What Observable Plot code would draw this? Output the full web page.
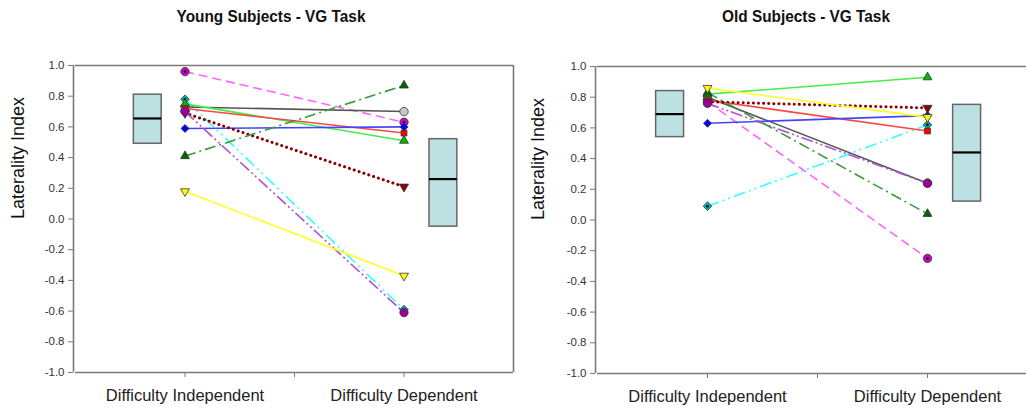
<!DOCTYPE html>
<html>
<head>
<meta charset="utf-8">
<script src="https://cdn.jsdelivr.net/npm/d3@7"></script>
<script src="https://cdn.jsdelivr.net/npm/@observablehq/plot@0.6"></script>
<style>
  html, body { margin: 0; padding: 0; background: #fff; overflow: hidden; }
  #wrap { position: relative; width: 1026px; height: 411px; overflow: hidden; font-family: "Liberation Sans", Arial, sans-serif; }
  .title { position: absolute; top: 8px; font-weight: bold; font-size: 16px; color: #111; white-space: nowrap; transform: translateX(-50%) scaleX(0.96); }
  .panel { position: absolute; top: 40px; height: 371px; }
  .panel svg { max-width: none !important; display: block; }
</style>
</head>
<body>
<div id="wrap">
  <div class="title" style="left:271px">Young Subjects - VG Task</div>
  <div class="title" style="left:806px">Old Subjects - VG Task</div>
  <div class="panel" id="left" style="left:0px; width:520px"></div>
  <div class="panel" id="right" style="left:520px; width:517px"></div>
</div>
<script>
// ---- data ----
const conditions = ["Difficulty Independent", "Difficulty Dependent"];
const subjects = ["S1", "S2", "S3", "S4", "S5", "S6", "S7", "S8", "S9", "S10"];
// order: magenta, cyan, gray, lime, red, blue, dark red, purple, dark green, yellow
const youngIndependent = [0.96, 0.78, 0.73, 0.75, 0.72, 0.59, 0.69, 0.70, 0.41, 0.18];
const youngDependent   = [0.63, -0.59, 0.70, 0.51, 0.56, 0.60, 0.21, -0.61, 0.87, -0.37];
const oldIndependent   = [0.77, 0.09, 0.80, 0.82, 0.78, 0.63, 0.77, 0.76, 0.83, 0.86];
const oldDependent     = [-0.25, 0.62, 0.24, 0.93, 0.58, 0.68, 0.73, 0.24, 0.04, 0.67];
const youngBoxQ1     = [0.49, -0.05];
const youngBoxMedian = [0.655, 0.26];
const youngBoxQ3     = [0.81, 0.52];
const oldBoxQ1       = [0.54, 0.12];
const oldBoxMedian   = [0.69, 0.44];
const oldBoxQ3       = [0.84, 0.75];
const yTicks = [-1, -0.8, -0.6, -0.4, -0.2, 0, 0.2, 0.4, 0.6, 0.8, 1];
const yLabel = "Laterality Index";

// ---- styles ----
const triangleDown = {
  draw(ctx, size) {
    const y = -Math.sqrt(size / (Math.sqrt(3) * 3));
    const s3 = Math.sqrt(3);
    ctx.moveTo(0, -2 * y);
    ctx.lineTo(-s3 * y, y);
    ctx.lineTo(s3 * y, y);
    ctx.closePath();
  }
};
const styles = [
  {line: "#ff66ff", dash: "9,5", w: 1.6, symbol: "circle", r: 4.2, fill: "#cc00cc", center: true},
  {line: "#33ffff", dash: "12,4,2,4,2,4", w: 1.6, symbol: "diamond2", r: 3.9, fill: "#00b0b0", center: true},
  {line: "#555555", dash: null, w: 1.6, symbol: "circle", r: 4.2, fill: "#c8c8c8"},
  {line: "#44ee44", dash: null, w: 1.6, symbol: "triangle", r: 3.3, fill: "#00bb00"},
  {line: "#ff4444", dash: null, w: 1.6, symbol: "square", r: 3.3, fill: "#ff0000"},
  {line: "#4444ff", dash: null, w: 1.6, symbol: "diamond2", r: 3.6, fill: "#0000ff"},
  {line: "#8b0000", dash: "0.1,5", w: 3, symbol: triangleDown, r: 3.4, fill: "#8b0000", round: true},
  {line: "#b050d0", dash: "12,3,2,3,2,3", w: 1.6, symbol: "circle", r: 4.2, fill: "#990099"},
  {line: "#3a9a3a", dash: "11,4,2,4", w: 1.6, symbol: "triangle", r: 3.3, fill: "#006600"},
  {line: "#ffff22", dash: null, w: 1.6, symbol: triangleDown, r: 3.3, fill: "#ffff00"}
];

function panel(ind, dep, q1, med, q3, opt) {
  const pts = subjects.flatMap((s, i) => [
    {s, i, x: 1, y: ind[i]},
    {s, i, x: 3, y: dep[i]}
  ]);
  const boxes = conditions.map((c, k) => ({c, q1: q1[k], med: med[k], q3: q3[k], cx: k === 0 ? 0.66 : 3.36}));
  const marks = [];
  const axisColor = "#7a7a7a";
  // frame
  marks.push(Plot.ruleY([1, -1], {x1: 0, x2: 4, stroke: axisColor, strokeWidth: 1.6}));
  marks.push(Plot.ruleX([4], {y1: -1, y2: 1, stroke: axisColor, strokeWidth: 1.6}));
  marks.push(Plot.ruleX([0], {y1: -1, y2: 1, stroke: axisColor, strokeWidth: 1.6, dx: -2}));
  marks.push(Plot.axisY({ticks: yTicks, tickFormat: d => d.toFixed(1), tickSize: 5, tickPadding: 4, dx: -2,
    stroke: axisColor, color: "#333", fontSize: 11.5, label: null}));
  marks.push(Plot.axisX({ticks: [1, 2, 3], tickFormat: d => d === 1 ? conditions[0] : d === 3 ? conditions[1] : "",
    tickSize: 5, tickPadding: 12, stroke: axisColor, color: "#222", fontSize: 16.5, label: null}));
  marks.push(Plot.text([yLabel], {frameAnchor: "left", dx: opt.labelDx, rotate: -90, text: d => d,
    fontSize: 18, fill: "#111"}));
  // boxes
  marks.push(Plot.rect(boxes, {x1: d => d.cx - 0.127, x2: d => d.cx + 0.127, y1: "q1", y2: "q3",
    fill: "#bde0e3", stroke: "#666", strokeWidth: 1.5}));
  marks.push(Plot.ruleY(boxes, {y: "med", x1: d => d.cx - 0.127, x2: d => d.cx + 0.127, stroke: "#000", strokeWidth: 2.2}));
  // lines
  styles.forEach((st, i) => {
    marks.push(Plot.line(pts.filter(d => d.i === i), {x: "x", y: "y", stroke: st.line, strokeWidth: st.w,
      strokeDasharray: st.dash, strokeLinecap: st.round ? "round" : "butt", curve: "linear"}));
  });
  // markers
  styles.forEach((st, i) => {
    marks.push(Plot.dot(pts.filter(d => d.i === i), {x: "x", y: "y", symbol: st.symbol, r: st.r,
      fill: st.fill, stroke: "#333", strokeWidth: 0.8}));
    if (st.center) marks.push(Plot.dot(pts.filter(d => d.i === i), {x: "x", y: "y", r: 1.3, fill: "#000"}));
  });
  return Plot.plot({
    width: opt.width, height: 371,
    marginLeft: opt.ml, marginRight: opt.mr, marginTop: opt.mt, marginBottom: opt.mb,
    x: {domain: [0, 4], axis: null},
    y: {domain: [-1, 1], axis: null},
    style: {fontFamily: "'Liberation Sans', Arial, sans-serif", background: "transparent", overflow: "visible", maxWidth: "none"},
    marks
  });
}

document.getElementById("left").append(panel(youngIndependent, youngDependent, youngBoxQ1, youngBoxMedian, youngBoxQ3,
  {width: 520, ml: 75, mr: 7, mt: 25, mb: 39, labelDx: -57}));
document.getElementById("right").append(panel(oldIndependent, oldDependent, oldBoxQ1, oldBoxMedian, oldBoxQ3,
  {width: 517, ml: 77, mr: 0, mt: 26, mb: 38, labelDx: -59}));
</script>
</body>
</html>
